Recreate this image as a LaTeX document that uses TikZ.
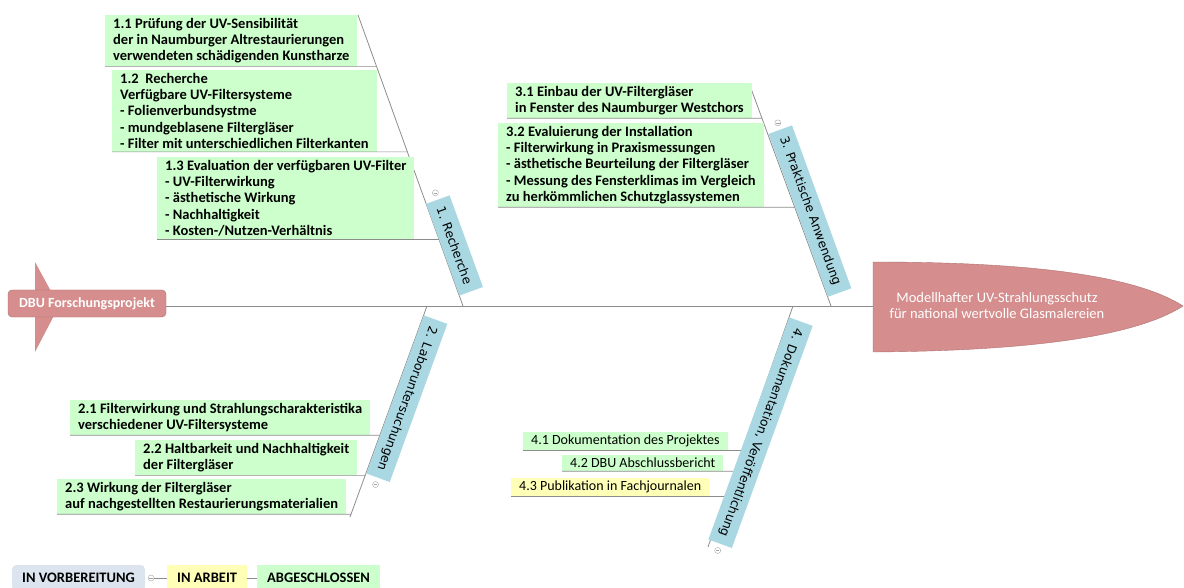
\documentclass[tikz,border=0pt]{standalone}
\usepackage{fontspec}
\setmainfont{Carlito}
\newfontfamily\bonefont{DejaVu Sans}
\usetikzlibrary{calc}

\definecolor{leafgreen}{HTML}{CCFFCC}
\definecolor{leafyellow}{HTML}{FFFFB8}
\definecolor{boneblue}{HTML}{A9D8E2}
\definecolor{fishred}{HTML}{D58D8D}
\definecolor{fishedge}{HTML}{B07070}
\definecolor{statusgray}{HTML}{DCE5EF}
\definecolor{linegray}{HTML}{8C8C8C}

\tikzset{
  leaf/.style={fill=leafgreen, anchor=north west, align=left, inner xsep=8pt, inner ysep=3pt,
    font=\fontsize{14.5}{16.3}\selectfont\bfseries},
  leafdoc/.style={leaf, font=\fontsize{14}{16}\selectfont},
  bonelabel/.style={fill=boneblue, inner xsep=8pt, inner ysep=0pt, minimum height=25pt,
    font=\bonefont\fontsize{12.3}{14}\selectfont},
  bone/.style={draw=linegray, line width=0.8pt},
  twig/.style={draw=linegray, line width=0.7pt},
  collapse/.style={circle, draw=linegray!80, fill=white, inner sep=0pt, minimum size=6pt,
    path picture={\draw[linegray!80] ([xshift=-1.8pt]path picture bounding box.center) -- ([xshift=1.8pt]path picture bounding box.center);}},
  status/.style={anchor=west, minimum height=26pt, inner xsep=10pt, inner ysep=0pt,
    font=\fontsize{14.5}{16}\selectfont\bfseries}
}

\begin{document}
\begin{tikzpicture}[x=1pt, y=-1pt]
  \useasboundingbox (0,0) rectangle (1184,588);

  % bone end points
  \coordinate (b1top) at (358,15);
  \coordinate (b1foot) at (463,306);
  \coordinate (b2foot) at (427,306);
  \coordinate (b2end) at (350,517);
  \coordinate (b3top) at (749,83);
  \coordinate (b3foot) at (831,306);
  \coordinate (b4foot) at (793,306);
  \coordinate (b4end) at (708,547);
  \coordinate (headw) at (873,306);

  % tail and head
  \fill[fishred] (35,262) -- (59,306) -- (35,352) -- cycle;
  \filldraw[fill=fishred, draw=fishedge] (873,262) .. controls (1010,262) and (1130,272) .. (1183,306)
    .. controls (1130,340) and (1010,351) .. (873,352) -- cycle;
  \node[rounded corners=4pt, fill=fishred, draw=fishedge, text=white, minimum width=158pt,
    minimum height=27pt, font=\fontsize{14}{16}\selectfont\bfseries] (dbu) at (87,303.5) {DBU Forschungsprojekt};
  \node[text=white, align=center, font=\fontsize{14.5}{16}\selectfont] (goal) at (997,306)
    {Modellhafter UV-Strahlungsschutz\\für national wertvolle Glasmalereien};

  % spine and bones
  \draw[bone] (dbu.east |- headw) -- (headw);
  \draw[bone] (b1top) -- (b1foot);
  \draw[bone] (b3top) -- (b3foot);
  \draw[bone] (b2foot) -- (b2end);
  \draw[bone] (b4foot) -- (b4end);

  % work packages
  \node[leaf] (s11) at (105,15) {1.1 Prüfung der UV-Sensibilität\\der in Naumburger Altrestaurierungen\\verwendeten schädigenden Kunstharze};
  \node[leaf] (s12) at (112,70) {1.2\ \ Recherche\\Verfügbare UV-Filtersysteme\\- Folienverbundsystme\\- mundgeblasene Filtergläser\\- Filter mit unterschiedlichen Filterkanten};
  \node[leaf] (s13) at (157,157) {1.3 Evaluation der verfügbaren UV-Filter\\- UV-Filterwirkung\\- ästhetische Wirkung\\- Nachhaltigkeit\\- Kosten-/Nutzen-Verhältnis};
  \node[leaf] (s31) at (507,83) {3.1 Einbau der UV-Filtergläser\\in Fenster des Naumburger Westchors};
  \node[leaf] (s32) at (498,123) {3.2 Evaluierung der Installation\\- Filterwirkung in Praxismessungen\\- ästhetische Beurteilung der Filtergläser\\- Messung des Fensterklimas im Vergleich\\zu herkömmlichen Schutzglassystemen};
  \node[leaf] (s21) at (70,400) {2.1 Filterwirkung und Strahlungscharakteristika\\verschiedener UV-Filtersysteme};
  \node[leaf] (s22) at (135,440) {2.2 Haltbarkeit und Nachhaltigkeit\\der Filtergläser};
  \node[leaf] (s23) at (57,479) {2.3 Wirkung der Filtergläser\\auf nachgestellten Restaurierungsmaterialien};
  \node[leafdoc] (s41) at (523,432) {4.1 Dokumentation des Projektes};
  \node[leafdoc] (s42) at (562,455) {4.2 DBU Abschlussbericht};
  \node[leafdoc, fill=leafyellow] (s43) at (511,478) {4.3 Publikation in Fachjournalen};

  % twigs under the packages
  \foreach \pk/\ba/\bb in {s11/b1top/b1foot, s12/b1top/b1foot, s13/b1top/b1foot,
      s31/b3top/b3foot, s32/b3top/b3foot, s21/b2foot/b2end, s22/b2foot/b2end,
      s23/b2foot/b2end, s41/b4foot/b4end, s42/b4foot/b4end, s43/b4foot/b4end}
    \draw[twig] (\pk.south west) -- (intersection of \pk.south west--\pk.south east and \ba--\bb);

  % bone labels
  \path (b1foot) -- (b1top) node[bonelabel, rotate=-70, pos=0.035, anchor=south east] (l1) {1. Recherche};
  \path (b3foot) -- (b3top) node[bonelabel, rotate=-70, pos=0.04, anchor=south east] (l3) {3. Praktische Anwendung};
  \path (b2foot) -- (b2end) node[bonelabel, rotate=-110, pos=0.043, anchor=south west] (l2) {2. Laboruntersuchungen};
  \path (b4foot) -- (b4end) node[bonelabel, rotate=-110, pos=0.046, anchor=south west] (l4) {4. Dokumentation, Veröffentlichung};
  \node[collapse] (c1) at ($(l1.west)!-7pt!(l1.east)$) {};
  \node[collapse] (c3) at ($(l3.west)!-7pt!(l3.east)$) {};
  \node[collapse] (c2) at ($(l2.east)!-7pt!(l2.west)$) {};
  \node[collapse] (c4) at ($(l4.east)!-7pt!(l4.west)$) {};

  % legend
  \node[status, fill=statusgray, rounded corners=4pt] (st1) at (12,578) {IN VORBEREITUNG};
  \node[status, fill=leafyellow] (st2) at (167,578) {IN ARBEIT};
  \node[status, fill=leafgreen] (st3) at (257,578) {ABGESCHLOSSEN};
  \node[collapse] (c0) at ([xshift=6pt]st1.east) {};
  \draw[twig] (c0) -- (st2);
  \draw[twig] (st2) -- (st3);
\end{tikzpicture}
\end{document}
